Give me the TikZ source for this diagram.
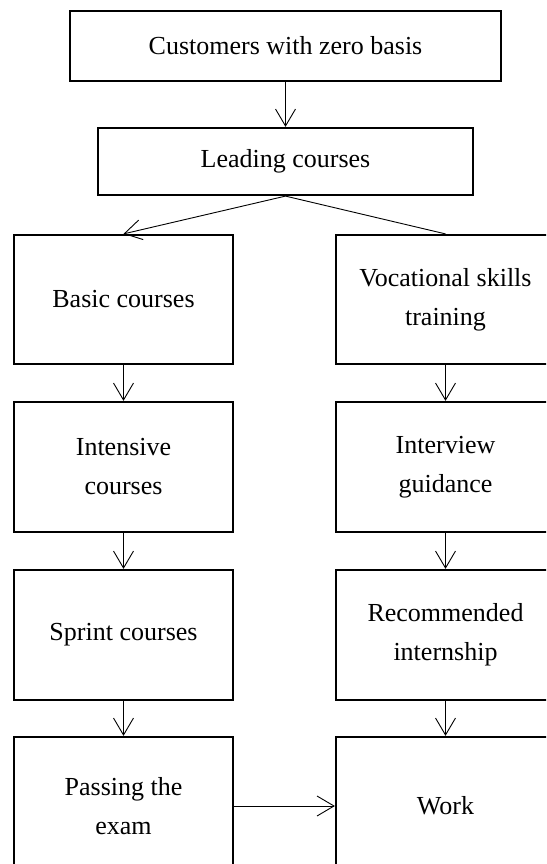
\documentclass[tikz,border=0pt]{standalone}
\usepackage{fontspec}
\setmainfont{Liberation Serif}
\usepackage{xcolor}
\usepackage{tikz}
\usetikzlibrary{arrows.meta, positioning}

\begin{document}
\begin{tikzpicture}[x=1pt, y=1pt,
  box/.style={draw, line width=2.2pt, inner sep=0pt, align=center,
    font=\fontsize{26}{39}\selectfont},
  col/.style={box, minimum width=219pt, minimum height=130pt},
  arr/.style={-{Straight Barb[length=17pt, width=20pt]}, line width=0.9pt}]
\useasboundingbox (0,0) rectangle (546,-864);
\clip (0,0) rectangle (546,-864);
\node[box, minimum width=431pt, minimum height=70pt] (a) at (285.5,-46) {Customers with zero basis};
\node[box, minimum width=375pt, minimum height=67pt] (b) at (285.5,-161.5) {Leading courses};
\node[col, minimum height=129pt] (c) at (123.5,-299.5) {Basic courses};
\node[col] (d) at (123.5,-467) {Intensive\\courses};
\node[col] (e) at (123.5,-635) {Sprint courses};
\node[col, minimum height=138pt] (f) at (123.5,-806) {Passing the\\exam};
\node[col, minimum height=129pt] (g) at (445.5,-299.5) {Vocational skills\\training};
\node[col] (h) at (445.5,-467) {Interview\\guidance};
\node[col] (i) at (445.5,-635) {Recommended\\internship};
\node[col, minimum height=138pt] (j) at (445.5,-806) {Work};
\draw[arr] (a) -- (b);
\draw[arr] (b.south) -- (c.north);
\draw[line width=0.9pt] (b.south) -- (g.north);
\draw[arr] (c) -- (d);
\draw[arr] (d) -- (e);
\draw[arr] (e) -- (f);
\draw[arr] (g) -- (h);
\draw[arr] (h) -- (i);
\draw[arr] (i) -- (j);
\draw[arr] (f) -- (j);
\end{tikzpicture}
\end{document}
